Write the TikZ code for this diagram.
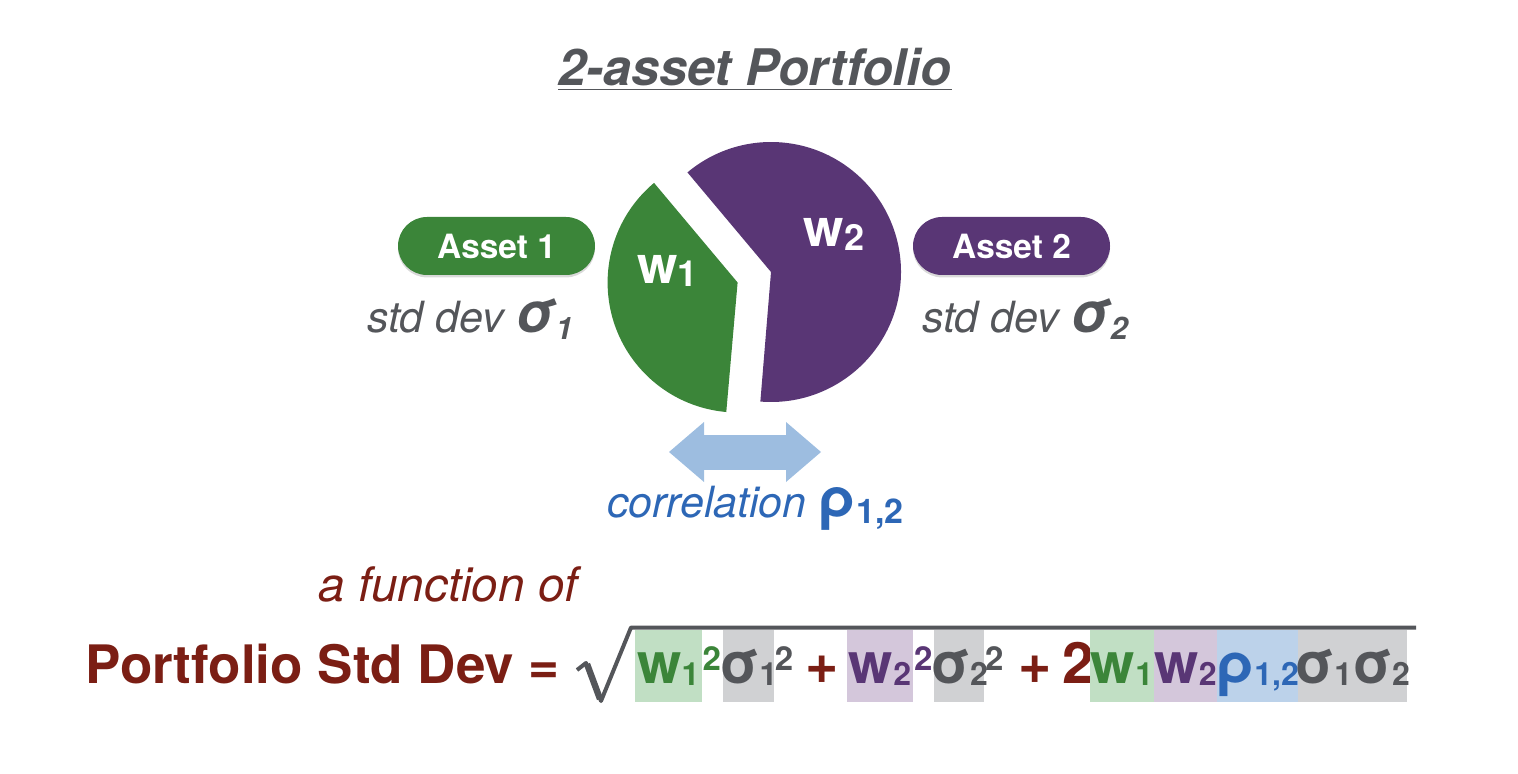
\documentclass[tikz,border=0pt]{standalone}
\usepackage{fontspec}
\setmainfont{TeX Gyre Heros}
\usetikzlibrary{arrows.meta,shadows}
\definecolor{assetgreen}{RGB}{59,133,57}
\definecolor{assetpurple}{RGB}{89,54,117}
\definecolor{txtgray}{RGB}{84,86,90}
\definecolor{corrblue}{RGB}{45,103,182}
\definecolor{arrowblue}{RGB}{157,189,224}
\definecolor{darkred}{RGB}{123,30,20}
\definecolor{lgreen}{RGB}{193,223,196}
\definecolor{lgray}{RGB}{208,209,211}
\definecolor{lpurple}{RGB}{212,199,219}
\definecolor{lblue}{RGB}{188,210,234}
\newcommand{\fs}[1]{\fontsize{#1}{#1}\selectfont}
\newcommand{\fsub}[1]{\raisebox{-1pt}{\fs{16}#1}}
\newcommand{\psub}[1]{\raisebox{-1.7pt}{\fs{18}#1}}
\newcommand{\ssub}[1]{\raisebox{-3.5pt}{\fs{15.5}\bfseries\itshape #1}}
\newcommand{\rsub}[1]{\raisebox{-3pt}{\fs{17}\bfseries\upshape #1}}
\newcommand{\tm}[1]{\makebox[0pt]{#1}}
\tikzset{
  pill/.style={rounded corners=14.5pt, minimum width=98.5pt, minimum height=29pt,
    inner sep=0pt, text=white, font=\fs{16.7}\bfseries,
    drop shadow={shadow xshift=0pt,shadow yshift=-1.2pt,opacity=.3}},
  pielabel/.style={inner sep=0pt, anchor=base west, text=white, font=\fs{26}\bfseries},
  stdlabel/.style={inner sep=0pt, anchor=base west, text=txtgray, font=\fs{21.5}\itshape},
  term/.style={inner sep=0pt, text height=26.75pt, text depth=9.25pt, anchor=base,
    font=\fs{28.5}\bfseries},
  sup/.style={inner sep=0pt, anchor=base west, yshift=6.7pt, font=\fs{16.5}\bfseries},
  op/.style={inner sep=0pt, anchor=base, text=darkred, font=\fs{28.5}\bfseries}
}
\begin{document}
\begin{tikzpicture}[x=0.5pt,y=-0.5pt]
\useasboundingbox (0,0) rectangle (1518,774);
% title
\node[inner sep=0pt, anchor=base, text=txtgray, font=\fs{25.2}\bfseries\itshape] (title) at (755,86) {\underline{2-asset Portfolio}};
% pie
\coordinate (pc) at (771,272);
\coordinate (gc) at (737.6,282.5);
\fill[assetpurple] (pc) -- ++(94.7:130) arc[start angle=94.7, end angle=-130, radius=130] -- cycle;
\fill[assetgreen] (gc) -- ++(-130:130) arc[start angle=-130, end angle=-265, radius=130] -- cycle;
\node[pielabel] (w1) at (636.7,283.3) {w\psub{1}};
\node[pielabel] (w2) at (803.3,246.7) {w\psub{2}};
% assets
\node[pill, fill=assetgreen] (a1) at (496.5,246) {Asset 1};
\node[pill, fill=assetpurple] (a2) at (1011.5,246) {Asset 2};
\node[stdlabel] (sd1) at (366.7,333) {std dev {\fs{28}\bfseries σ}\ssub{1}};
\node[stdlabel] (sd2) at (921.7,333) {std dev {\fs{28}\bfseries σ}\ssub{2}};
% correlation
\coordinate (cl) at (669,452);
\coordinate (cr) at (821,452);
\draw[arrowblue, line width=17.5pt,
  {Triangle[length=17.5pt,width=30pt,line width=0pt]}-{Triangle[length=17.5pt,width=30pt,line width=0pt]}] (cl) -- (cr);
\node[inner sep=0pt, anchor=base west, text=corrblue, font=\fs{21.5}\itshape] (corr) at (606.7,517) {correlation {\fs{28}\upshape\bfseries ρ}\rsub{1,2}};
% formula
\node[inner sep=0pt, anchor=base west, text=darkred, font=\fs{23.8}\itshape] (fof) at (318,601) {a function of};
\node[inner sep=0pt, anchor=base west, text=darkred, font=\fs{26.5}\bfseries] (psd) at (85,683.5) {Portfolio Std Dev =};
\draw[txtgray, line width=2pt, line join=round] (577,670) -- (586,663) -- (601,701) -- (631,627.5) -- (1416,627.5);
\draw[txtgray, line width=3.2pt] (587,664) -- (600,699);
\node[term, fill=lgreen, text=assetgreen, minimum width=33.35pt] (t1) at (668.35,683.5) {\tm{w\fsub{1}}};
\node[sup, text=assetgreen] (s1) at (t1.base east) {2};
\node[term, fill=lgray, text=txtgray, minimum width=25.35pt] (t2) at (748.65,683.5) {\tm{σ\fsub{1}}};
\node[sup, text=txtgray] (s2) at (t2.base east) {2};
\node[op] (p1) at (822.5,683.5) {+};
\node[term, fill=lpurple, text=assetpurple, minimum width=33.3pt] (t3) at (880,683.5) {\tm{w\fsub{2}}};
\node[sup, text=assetpurple] (s3) at (t3.base east) {2};
\node[term, fill=lgray, text=txtgray, minimum width=25.15pt] (t4) at (959.15,683.5) {\tm{σ\fsub{2}}};
\node[sup, text=txtgray] (s4) at (t4.base east) {2};
\node[op] (p2) at (1035.3,683.5) {+};
\node[op] (two) at (1078.3,683.5) {2};
\node[term, fill=lgreen, text=assetgreen, minimum width=32pt] (t5) at (1122,683.5) {\tm{w\fsub{1}}};
\node[term, fill=lpurple, text=assetpurple, minimum width=31.65pt] (t6) at (1185.65,683.5) {\tm{w\fsub{2}}};
\node[term, fill=lblue, text=corrblue, minimum width=40.2pt] (t7) at (1257.5,683.5) {\tm{ρ\fsub{1,2}}};
\node[term, fill=lgray, text=txtgray, minimum width=54.5pt] (t8) at (1352.2,683.5) {\tm{σ\fsub{1}σ\fsub{2}}};
\end{tikzpicture}
\end{document}
